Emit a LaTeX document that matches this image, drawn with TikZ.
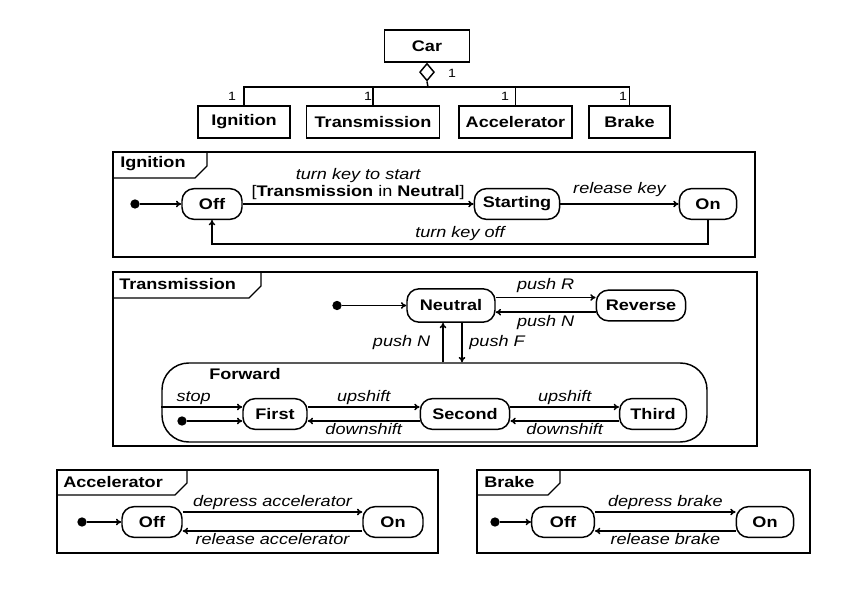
\documentclass[tikz,border=0pt]{standalone}
\usepackage{fontspec}
\setmainfont{Liberation Sans}[FakeStretch=1.18]
\usetikzlibrary{arrows.meta,shapes.geometric,positioning}

\tikzset{
  cls/.style={draw,line width=1.1pt,minimum height=24pt,inner sep=2pt,
    font=\fontsize{11.5}{13}\selectfont\bfseries},
  sstate/.style={draw,line width=1.1pt,rounded corners=9pt,minimum height=23pt,
    inner sep=2pt,fill=white,font=\fontsize{11.5}{13}\selectfont\bfseries},
  init/.style={circle,fill=black,inner sep=0pt,minimum size=7pt},
  frame/.style={draw,line width=0.9pt},
  ftitle/.style={anchor=west,inner sep=0pt,font=\fontsize{11.5}{13}\selectfont\bfseries},
  lbl/.style={inner sep=1pt,font=\fontsize{11.5}{13}\selectfont\itshape},
  mult/.style={inner sep=0pt,font=\fontsize{9}{10}\selectfont},
  tr/.style={->,line width=1.1pt},
}

\begin{document}
\begin{tikzpicture}[x=0.75pt,y=-0.75pt,>={To[length=4pt,width=5pt]}]
  \useasboundingbox[fill=white] (0,0) rectangle (860,605);

  % class diagram
  \node[cls,minimum width=64pt] (car) at (427,46) {Car};
  \node[diamond,draw,line width=1.1pt,fill=white,inner sep=0pt,
        minimum width=11pt,minimum height=13pt,anchor=north] (agg) at (car.south) {};
  \node[cls,minimum width=69pt] (ign) at (244,122) {Ignition};
  \node[cls,minimum width=100pt] (trn) at (373,122) {Transmission};
  \node[cls,minimum width=85pt] (acc) at (515.5,122) {Accelerator};
  \node[cls,minimum width=61pt] (brk) at (629.5,122) {Brake};
  \coordinate (bus) at (428,87);
  \draw[line width=1.1pt] (agg.south) -- (bus);
  \draw[line width=1.1pt] (ign.north) |- (bus) -| (brk.north);
  \draw[line width=1.1pt] (trn.north) -- (trn.north |- bus);
  \draw[line width=1.1pt] (acc.north) -- (acc.north |- bus);
  \node[mult] (m0) at (452,73) {1};
  \node[mult] (m1) at (232,96) {1};
  \node[mult] (m2) at (368,96) {1};
  \node[mult] (m3) at (505,96) {1};
  \node[mult] (m4) at (623,96) {1};

  % Ignition
  \draw[frame] (113,152) rectangle (755,257);
  \draw[frame] (113,178) -- (195,178) -- (207,166) -- (207,152);
  \node[ftitle] (ignF) at (120,164) {Ignition};
  \node[init] (i0) at (135,204) {};
  \node[sstate,minimum width=45pt] (ioff) at (212,204) {Off};
  \node[sstate,minimum width=64pt] (istart) at (517,204) {Starting};
  \node[sstate,minimum width=43pt] (ion) at (708,204) {On};
  \draw[tr] (i0) -- (ioff);
  \draw[tr] (ioff) -- node[above,yshift=2pt,inner sep=1pt,align=center,
      font=\fontsize{11.5}{12.5}\selectfont]
      {\itshape turn key to start\\{[}\textbf{Transmission} in \textbf{Neutral}{]}} (istart);
  \draw[tr] (istart) -- node[lbl,above,yshift=4pt] {release key} (ion);
  \draw[tr] (ion.south) -- (ion.south |- 0,244)
      -- node[lbl,above,yshift=1pt] {turn key off} (ioff.south |- 0,244) -- (ioff.south);

  % Transmission
  \draw[frame] (113,272) rectangle (757,446);
  \draw[frame] (113,298) -- (249,298) -- (261,286) -- (261,272);
  \node[ftitle] (trnF) at (119,284) {Transmission};
  \node[init] (t0) at (337,305.5) {};
  \node[sstate,minimum width=66pt,minimum height=25pt] (neu) at (451,305.5) {Neutral};
  \node[sstate,minimum width=67pt] (rev) at (641,305.5) {Reverse};
  \draw[tr] (t0) -- (neu);
  \draw[tr] ([yshift=6pt]neu.east) -- node[lbl,above,yshift=2pt] {push R} ([yshift=6pt]rev.west);
  \draw[tr] ([yshift=-5pt]rev.west) -- node[lbl,below,yshift=-1pt] {push N} ([yshift=-5pt]neu.east);
  \node[draw,line width=1.1pt,rounded corners=20pt,inner sep=0pt,
        minimum width=408.75pt,minimum height=59.25pt] (fwd) at (434.5,402.5) {};
  \node[ftitle] (fwdT) at (209,374) {Forward};
  \draw[tr] (fwd.north -| 443,0) -- node[lbl,left,xshift=-8pt] {push N} (neu.south -| 443,0);
  \draw[tr] (neu.south -| 462,0) -- node[lbl,right,xshift=4pt] {push F} (fwd.north -| 462,0);
  \node[init] (f0) at (182,421) {};
  \node[sstate,minimum width=48pt] (first) at (275,414) {First};
  \node[sstate,minimum width=67pt] (second) at (465,414) {Second};
  \node[sstate,minimum width=50pt] (third) at (653,414) {Third};
  \draw[tr] (fwd.west |- 0,407) -- node[lbl,above,pos=0.4] {stop} (first.west |- 0,407);
  \draw[tr] (f0) -- (first.west |- 0,421);
  \draw[tr] (first.east |- 0,407) -- node[lbl,above] {upshift} (second.west |- 0,407);
  \draw[tr] (second.west |- 0,421) -- node[lbl,below] {downshift} (first.east |- 0,421);
  \draw[tr] (second.east |- 0,407) -- node[lbl,above] {upshift} (third.west |- 0,407);
  \draw[tr] (third.west |- 0,421) -- node[lbl,below] {downshift} (second.east |- 0,421);

  % Accelerator
  \draw[frame] (57,470) rectangle (438,553);
  \draw[frame] (57,495) -- (175,495) -- (187,483) -- (187,470);
  \node[ftitle] (accF) at (63,482) {Accelerator};
  \node[init] (a0) at (82,522) {};
  \node[sstate,minimum width=45pt] (aoff) at (152,522) {Off};
  \node[sstate,minimum width=45pt] (aon) at (393,522) {On};
  \draw[tr] (a0) -- (aoff);
  \draw[tr] (aoff.east |- 0,512) -- node[lbl,above] {depress accelerator} (aon.west |- 0,512);
  \draw[tr] (aon.west |- 0,531) -- node[lbl,below] {release accelerator} (aoff.east |- 0,531);

  % Brake
  \draw[frame] (477,470) rectangle (810,553);
  \draw[frame] (477,495) -- (548,495) -- (560,483) -- (560,470);
  \node[ftitle] (brkF) at (484,482) {Brake};
  \node[init] (b0) at (495,522) {};
  \node[sstate,minimum width=47pt] (boff) at (563,522) {Off};
  \node[sstate,minimum width=43pt] (bon) at (765,522) {On};
  \draw[tr] (b0) -- (boff);
  \draw[tr] (boff.east |- 0,512) -- node[lbl,above] {depress brake} (bon.west |- 0,512);
  \draw[tr] (bon.west |- 0,531) -- node[lbl,below] {release brake} (boff.east |- 0,531);
\end{tikzpicture}
\end{document}
